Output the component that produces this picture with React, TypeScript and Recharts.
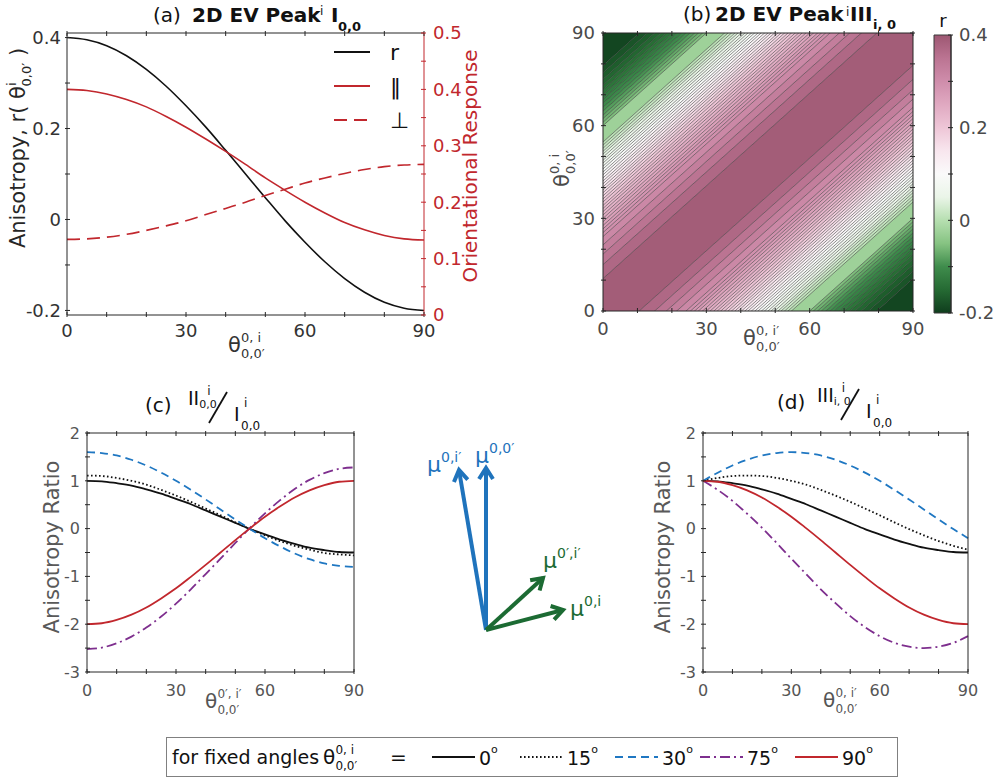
import React from 'react';
import {
  LineChart,
  ComposedChart,
  ScatterChart,
  Scatter,
  Line,
  Area,
  XAxis,
  YAxis,
  Legend,
  ReferenceArea,
} from 'recharts';

const FONT = '"DejaVu Sans", "Liberation Sans", sans-serif';
const INK = '#262626';
const GREY = '#4a4a4a';
const RED = '#c1272d';
const BLUE = '#1f77c2';
const PURPLE = '#7e2f8e';
const ARROW_BLUE = '#1f73bc';
const ARROW_GREEN = '#1c6b33';

// angle grid, every 5 degrees
const THETA = [0, 5, 10, 15, 20, 25, 30, 35, 40, 45, 50, 55, 60, 65, 70, 75, 80, 85, 90];

// (a) anisotropy r (left axis) and orientational response (right axis)
const ANISO_R = [0.4, 0.395, 0.382, 0.36, 0.33, 0.293, 0.25, 0.203, 0.152, 0.1, 0.048, -0.003, -0.05, -0.093, -0.13, -0.16, -0.182, -0.195, -0.2];
const RESP_PAR = [0.4, 0.398, 0.392, 0.382, 0.369, 0.352, 0.333, 0.312, 0.29, 0.267, 0.243, 0.221, 0.2, 0.181, 0.164, 0.151, 0.141, 0.135, 0.133];
const RESP_PERP = [0.134, 0.135, 0.138, 0.143, 0.15, 0.158, 0.167, 0.178, 0.189, 0.2, 0.212, 0.223, 0.234, 0.243, 0.251, 0.258, 0.263, 0.266, 0.267];

// fixed angles used in (c) and (d)
const FIXED_ANGLES = [0, 15, 30, 75, 90];

// (c) II / I ratio
const II_0 = [1.0, 0.99, 0.95, 0.9, 0.82, 0.73, 0.62, 0.51, 0.38, 0.25, 0.12, -0.01, -0.12, -0.23, -0.32, -0.4, -0.45, -0.49, -0.5];
const II_15 = [1.11, 1.1, 1.06, 1.0, 0.92, 0.81, 0.69, 0.56, 0.42, 0.28, 0.13, -0.01, -0.14, -0.26, -0.36, -0.44, -0.51, -0.54, -0.56];
const II_30 = [1.6, 1.58, 1.53, 1.44, 1.32, 1.17, 1.0, 0.81, 0.61, 0.4, 0.19, -0.01, -0.2, -0.37, -0.52, -0.64, -0.73, -0.78, -0.8];
const II_75 = [-2.52, -2.49, -2.4, -2.26, -2.07, -1.84, -1.57, -1.27, -0.95, -0.63, -0.3, 0.02, 0.32, 0.59, 0.83, 1.02, 1.16, 1.25, 1.28];
const II_90 = [-2.0, -1.98, -1.91, -1.8, -1.65, -1.46, -1.25, -1.01, -0.76, -0.5, -0.24, 0.01, 0.25, 0.46, 0.65, 0.8, 0.91, 0.98, 1.0];

// (d) III / I ratio
const III_0 = [1.0, 0.99, 0.95, 0.9, 0.82, 0.73, 0.62, 0.51, 0.38, 0.25, 0.12, -0.01, -0.12, -0.23, -0.32, -0.4, -0.45, -0.49, -0.5];
const III_15 = [1.0, 1.06, 1.1, 1.11, 1.1, 1.06, 1.0, 0.92, 0.81, 0.69, 0.56, 0.42, 0.28, 0.13, -0.01, -0.14, -0.26, -0.36, -0.44];
const III_30 = [1.0, 1.17, 1.32, 1.44, 1.53, 1.58, 1.6, 1.58, 1.53, 1.44, 1.32, 1.17, 1.0, 0.81, 0.61, 0.4, 0.19, -0.01, -0.2];
const III_75 = [1.0, 0.81, 0.58, 0.31, 0.02, -0.3, -0.63, -0.95, -1.27, -1.56, -1.83, -2.06, -2.25, -2.39, -2.47, -2.5, -2.47, -2.39, -2.25];
const III_90 = [1.0, 0.98, 0.91, 0.8, 0.65, 0.46, 0.25, 0.01, -0.24, -0.5, -0.76, -1.01, -1.25, -1.46, -1.65, -1.8, -1.91, -1.98, -2.0];

// (b) contour levels of r, and how far (in degrees) each one sits off the diagonal
const R_LEVELS = [
  0.38, 0.36, 0.34, 0.32, 0.3, 0.29, 0.28, 0.27, 0.26, 0.25, 0.24, 0.23, 0.22, 0.21, 0.2, 0.19, 0.18,
  0.17, 0.16, 0.15, 0.14, 0.13, 0.12, 0.11, 0.1, 0.09, 0.08, 0.07, 0.06, 0.05, 0.04, 0.03, 0.02, 0.01,
  0.0, -0.05, -0.06, -0.07, -0.08, -0.09, -0.1, -0.11, -0.12, -0.13, -0.14, -0.15, -0.16, -0.17, -0.18,
];
const LEVEL_OFFSETS = [
  10.5, 15.0, 18.4, 21.4, 24.1, 25.4, 26.6, 27.7, 28.9, 30.0, 31.1, 32.2, 33.2, 34.2, 35.3, 36.3, 37.3,
  38.3, 39.2, 40.2, 41.2, 42.1, 43.1, 44.1, 45.0, 46.0, 46.9, 47.9, 48.8, 49.8, 50.8, 51.7, 52.7, 53.7,
  54.7, 60.0, 61.1, 62.3, 63.4, 64.7, 65.9, 67.2, 68.6, 70.0, 71.6, 73.2, 75.0, 77.1, 79.5,
];

// colour bar range and stops (r value -> colour)
const CBAR_RANGE = [-0.2, 0.4];
const CMAP_R = [-0.2, -0.15, -0.1, -0.05, 0, 0.05, 0.1, 0.15, 0.2, 0.25, 0.3, 0.35, 0.4];
const CMAP_HEX = ['#0f3d1d', '#256a33', '#3f8c4c', '#86c382', '#b6dfb0', '#eaf5e8', '#fafafa', '#f8e6ee', '#eec6d7', '#e0a9c1', '#cf8dab', '#bb7492', '#9d5772'];

// tick positions
const DEG_TICKS = [0, 10, 20, 30, 40, 50, 60, 70, 80, 90];
const R_TICKS = [-0.2, -0.1, 0, 0.1, 0.2, 0.3, 0.4];
const RESP_TICKS = [0, 0.05, 0.1, 0.15, 0.2, 0.25, 0.3, 0.35, 0.4, 0.45, 0.5];
const RATIO_TICKS = [-3, -2.5, -2, -1.5, -1, -0.5, 0, 0.5, 1, 1.5, 2];
const CBAR_TICKS = [-0.2, -0.1, 0, 0.1, 0.2, 0.3, 0.4];

// transition dipoles for the sketch
const DIPOLE_NAMES = ['0,0′', '0,i′', '0′,i′', '0,i'];
const DIPOLE_DX = [0, -27, 57, 77];
const DIPOLE_DY = [162, 160, 52, 20];

// ---------- derived tables ----------

const dataA = THETA.map((t, i) => ({ t, r: ANISO_R[i], par: RESP_PAR[i], perp: RESP_PERP[i] }));

const II_SERIES = [II_0, II_15, II_30, II_75, II_90];
const III_SERIES = [III_0, III_15, III_30, III_75, III_90];

const toRows = (series: number[][]) =>
  THETA.map((t, i) => {
    const row: Record<string, number> = { t };
    FIXED_ANGLES.forEach((a, k) => {
      row[`a${a}`] = series[k][i];
    });
    return row;
  });

const dataC = toRows(II_SERIES);
const dataD = toRows(III_SERIES);

const FIXED_STYLE: Record<number, { stroke: string; dash?: string }> = {
  0: { stroke: '#111' },
  15: { stroke: '#111', dash: '1.6 2.4' },
  30: { stroke: BLUE, dash: '8 5' },
  75: { stroke: PURPLE, dash: '10 4 2 4' },
  90: { stroke: RED },
};

function hexToRgb(h: string) {
  const n = parseInt(h.slice(1), 16);
  return [(n >> 16) & 255, (n >> 8) & 255, n & 255];
}

function cmap(v: number) {
  const n = CMAP_R.length;
  if (v <= CMAP_R[0]) return CMAP_HEX[0];
  if (v >= CMAP_R[n - 1]) return CMAP_HEX[n - 1];
  for (let i = 0; i < n - 1; i++) {
    if (v <= CMAP_R[i + 1]) {
      const f = (v - CMAP_R[i]) / (CMAP_R[i + 1] - CMAP_R[i]);
      const a = hexToRgb(CMAP_HEX[i]);
      const b = hexToRgb(CMAP_HEX[i + 1]);
      const c = a.map((x, j) => Math.round(x + (b[j] - x) * f));
      return `rgb(${c[0]},${c[1]},${c[2]})`;
    }
  }
  return CMAP_HEX[n - 1];
}

// bands run parallel to the diagonal, so two end points per band are enough;
// the plot clips them to the square
const HEAT_X = [-100, 190];
const FAR = 200;

const HEAT_ROWS = HEAT_X.map((x) => {
  const row: Record<string, number | number[]> = { x };
  row.c = [x - LEVEL_OFFSETS[0], x + LEVEL_OFFSETS[0]];
  LEVEL_OFFSETS.forEach((lo, k) => {
    const hi = k + 1 < LEVEL_OFFSETS.length ? LEVEL_OFFSETS[k + 1] : FAR;
    row[`u${k}`] = [x + lo, x + hi];
    row[`d${k}`] = [x - hi, x - lo];
    row[`lu${k}`] = x + lo;
    row[`ld${k}`] = x - lo;
  });
  return row;
});

const HEAT_BANDS = [
  { key: 'c', color: cmap((0.4 + R_LEVELS[0]) / 2) },
  ...R_LEVELS.flatMap((lv, k) => {
    const next = k + 1 < R_LEVELS.length ? R_LEVELS[k + 1] : -0.2;
    const color = cmap((lv + next) / 2);
    return [
      { key: `u${k}`, color },
      { key: `d${k}`, color },
    ];
  }),
];

const HEAT_LINES = LEVEL_OFFSETS.flatMap((_, k) => [`lu${k}`, `ld${k}`]);

const CBAR_ROWS = [0, 1].map((x) => ({ x, span: CBAR_RANGE }));

// gradient stops must run top (0.4) to bottom (-0.2)
const CBAR_STOPS = CMAP_R.map((v, i) => ({ offset: (0.4 - v) / 0.6, color: CMAP_HEX[i] })).sort((p, q) => p.offset - q.offset);

// ---------- ticks ----------

type Side = 'left' | 'right' | 'top' | 'bottom';

const deg30 = (v: number) => (v % 30 === 0 ? String(v) : null);
const onStep = (step: number) => (v: number) => {
  const k = v / step;
  return Math.abs(k - Math.round(k)) < 1e-6 ? String(Number(v.toFixed(2))) : null;
};

function makeTick(
  side: Side,
  opts: { label?: (v: number) => string | null; fontSize?: number; color?: string; tickColor?: string; len?: number; gap?: number } = {},
) {
  const { label, fontSize = 16, color = GREY, tickColor = INK, len = 5, gap = 5 } = opts;
  return (props: any) => {
    const { x, y, payload } = props;
    const v = payload.value as number;
    const text = label ? label(v) : null;
    let mark;
    if (side === 'left') mark = <line x1={x} x2={x + len} y1={y} y2={y} />;
    else if (side === 'right') mark = <line x1={x} x2={x - len} y1={y} y2={y} />;
    else if (side === 'top') mark = <line x1={x} x2={x} y1={y} y2={y + len} />;
    else mark = <line x1={x} x2={x} y1={y} y2={y - len} />;
    let t = null;
    if (text != null) {
      if (side === 'left') t = <text x={x - gap} y={y} dy="0.36em" textAnchor="end">{text}</text>;
      else if (side === 'right') t = <text x={x + gap} y={y} dy="0.36em" textAnchor="start">{text}</text>;
      else if (side === 'bottom') t = <text x={x} y={y + gap} dy="0.72em" textAnchor="middle">{text}</text>;
    }
    return (
      <g>
        <g stroke={tickColor} strokeWidth={1}>{mark}</g>
        {t && (
          <g fill={color} fontSize={fontSize} fontFamily={FONT}>
            {t}
          </g>
        )}
      </g>
    );
  };
}

const axisBase = { tickSize: 0, tickLine: false, interval: 0 as const };

// ---------- panels ----------

function LegendA({ payload }: any) {
  const rows = payload ?? [];
  return (
    <svg width={90} height={100} style={{ overflow: 'visible' }}>
      {rows.map((e: any, i: number) => {
        const y = 12 + i * 34;
        return (
          <g key={e.value}>
            <line x1={0} x2={36} y1={y} y2={y} stroke={e.color} strokeWidth={1.8} strokeDasharray={e.payload?.strokeDasharray} />
            <text x={56} y={y} dy="0.36em" fontSize={22} fill="#111" fontFamily={FONT}>
              {e.value}
            </text>
          </g>
        );
      })}
    </svg>
  );
}

function PanelA() {
  return (
    <LineChart width={470} height={345} data={dataA} margin={{ top: 3, right: 0, bottom: 0, left: 0 }}>
      <XAxis xAxisId="b" dataKey="t" type="number" domain={[0, 90]} ticks={DEG_TICKS} height={30} axisLine={{ stroke: INK }} tick={makeTick('bottom', { label: deg30, fontSize: 18, gap: 7, color: '#333' })} {...axisBase} />
      <XAxis xAxisId="t" orientation="top" dataKey="t" type="number" domain={[0, 90]} ticks={DEG_TICKS} height={30} axisLine={{ stroke: INK }} tick={makeTick('top')} {...axisBase} />
      <YAxis yAxisId="l" type="number" domain={[-0.21, 0.41]} ticks={R_TICKS} width={67} axisLine={{ stroke: INK }} tick={makeTick('left', { label: onStep(0.2), fontSize: 18, gap: 4, color: '#333' })} {...axisBase} />
      <YAxis yAxisId="r" orientation="right" type="number" domain={[0, 0.5]} ticks={RESP_TICKS} width={46} axisLine={{ stroke: RED }} tick={makeTick('right', { label: onStep(0.1), fontSize: 18, gap: 7, color: RED, tickColor: RED })} {...axisBase} />
      <Line xAxisId="b" yAxisId="l" dataKey="r" name="r" type="monotone" stroke="#111" strokeWidth={1.6} dot={false} activeDot={false} isAnimationActive={false} />
      <Line xAxisId="b" yAxisId="r" dataKey="par" name="‖" type="monotone" stroke={RED} strokeWidth={1.6} dot={false} activeDot={false} isAnimationActive={false} />
      <Line xAxisId="b" yAxisId="r" dataKey="perp" name="⊥" type="monotone" stroke={RED} strokeWidth={1.6} strokeDasharray="13 7" dot={false} activeDot={false} isAnimationActive={false} />
      <Legend layout="vertical" align="center" verticalAlign="middle" content={LegendA} wrapperStyle={{ left: 334, top: 40, width: 90 }} />
    </LineChart>
  );
}

// shared geometry for the (b) heat map and its frame drawn on top of it
const B_SIZE = { width: 393, height: 341 };
const B_MARGIN = { top: 3, right: 10, bottom: 0, left: 0 };

function PanelB() {
  return (
    <ComposedChart {...B_SIZE} data={HEAT_ROWS} margin={B_MARGIN}>
      <XAxis xAxisId="b" dataKey="x" type="number" domain={[0, 90]} allowDataOverflow height={30} tick={false} axisLine={false} {...axisBase} />
      <XAxis xAxisId="t" orientation="top" dataKey="x" type="number" domain={[0, 90]} allowDataOverflow height={30} tick={false} axisLine={false} {...axisBase} />
      <YAxis yAxisId="l" type="number" domain={[0, 90]} allowDataOverflow width={63} tick={false} axisLine={false} {...axisBase} />
      <YAxis yAxisId="r" orientation="right" type="number" domain={[0, 90]} allowDataOverflow width={10} tick={false} axisLine={false} {...axisBase} />
      {HEAT_BANDS.map((b) => (
        <Area key={b.key} xAxisId="b" yAxisId="l" dataKey={b.key} type="linear" stroke="none" fill={b.color} fillOpacity={1} dot={false} activeDot={false} isAnimationActive={false} />
      ))}
      {HEAT_LINES.map((k) => (
        <Line key={k} xAxisId="b" yAxisId="l" dataKey={k} type="linear" stroke="#222" strokeWidth={0.5} dot={false} activeDot={false} isAnimationActive={false} />
      ))}
    </ComposedChart>
  );
}

function PanelBFrame() {
  return (
    <ComposedChart {...B_SIZE} data={HEAT_ROWS} margin={B_MARGIN}>
      <XAxis xAxisId="b" dataKey="x" type="number" domain={[0, 90]} allowDataOverflow ticks={DEG_TICKS} height={30} axisLine={{ stroke: INK }} tick={makeTick('bottom', { label: deg30, fontSize: 18, gap: 9 })} {...axisBase} />
      <XAxis xAxisId="t" orientation="top" dataKey="x" type="number" domain={[0, 90]} allowDataOverflow ticks={DEG_TICKS} height={30} axisLine={{ stroke: INK }} tick={makeTick('top')} {...axisBase} />
      <YAxis yAxisId="l" dataKey="x" type="number" domain={[0, 90]} allowDataOverflow ticks={DEG_TICKS} width={63} axisLine={{ stroke: INK }} tick={makeTick('left', { label: deg30, fontSize: 18, gap: 6 })} {...axisBase} />
      <YAxis yAxisId="r" dataKey="x" orientation="right" type="number" domain={[0, 90]} allowDataOverflow ticks={DEG_TICKS} width={10} axisLine={{ stroke: INK }} tick={makeTick('right')} {...axisBase} />
    </ComposedChart>
  );
}

function ColorBar() {
  return (
    <ComposedChart width={76} height={335} data={CBAR_ROWS} margin={{ top: 35, right: 0, bottom: 22, left: 4 }}>
      <defs>
        <linearGradient id="rbar" x1="0" y1="0" x2="0" y2="1">
          {CBAR_STOPS.map((s) => (
            <stop key={s.offset} offset={s.offset} stopColor={s.color} />
          ))}
        </linearGradient>
      </defs>
      <XAxis dataKey="x" type="number" domain={[0, 1]} hide />
      <YAxis orientation="right" type="number" domain={[-0.2, 0.4]} ticks={CBAR_TICKS} width={55} axisLine={{ stroke: INK }} tick={makeTick('right', { label: onStep(0.2), fontSize: 18, gap: 6 })} {...axisBase} />
      <Area dataKey="span" type="linear" stroke="none" fill="url(#rbar)" fillOpacity={1} dot={false} activeDot={false} isAnimationActive={false} />
      <ReferenceArea x1={0} x2={1} y1={-0.2} y2={0.4} fill="none" fillOpacity={0} stroke="#3a3a3a" strokeWidth={1} />
    </ComposedChart>
  );
}

function RatioPanel({ data, width }: { data: Record<string, number>[]; width: number }) {
  return (
    <LineChart width={width} height={299} data={data} margin={{ top: 0, right: 0, bottom: 0, left: 0 }}>
      <XAxis xAxisId="b" dataKey="t" type="number" domain={[0, 90]} ticks={DEG_TICKS} height={30} axisLine={{ stroke: INK }} tick={makeTick('bottom', { label: deg30, fontSize: 16, gap: 10, color: '#555' })} {...axisBase} />
      <XAxis xAxisId="t" orientation="top" dataKey="t" type="number" domain={[0, 90]} ticks={DEG_TICKS} height={30} axisLine={{ stroke: INK }} tick={makeTick('top')} {...axisBase} />
      <YAxis yAxisId="l" type="number" domain={[-3, 2]} ticks={RATIO_TICKS} width={57} axisLine={{ stroke: INK }} tick={makeTick('left', { label: onStep(1), fontSize: 16, gap: 5, color: '#555' })} {...axisBase} />
      <YAxis yAxisId="r" orientation="right" type="number" domain={[-3, 2]} ticks={RATIO_TICKS} width={10} axisLine={{ stroke: INK }} tick={makeTick('right')} {...axisBase} />
      {FIXED_ANGLES.map((a) => (
        <Line key={a} xAxisId="b" yAxisId="l" dataKey={`a${a}`} type="monotone" stroke={FIXED_STYLE[a].stroke} strokeDasharray={FIXED_STYLE[a].dash} strokeWidth={1.8} dot={false} activeDot={false} isAnimationActive={false} />
      ))}
    </LineChart>
  );
}

const DIPOLE_COLORS = [ARROW_BLUE, ARROW_BLUE, ARROW_GREEN, ARROW_GREEN];
const DIPOLE_LABEL_SHIFT = [
  [-11, -5],
  [-32, 2],
  [0, -10],
  [7, 6],
];

// arrow head and label at the tip of each dipole; the origin point draws nothing
const DipoleTip = (props: any) => {
  const { cx, cy, payload } = props;
  if (!payload || !payload.tip) return <g />;
  const i = payload.i as number;
  const color = DIPOLE_COLORS[i];
  const len = Math.hypot(payload.x, payload.y) || 1;
  const ux = payload.x / len;
  const uy = -payload.y / len;
  const nx = -uy;
  const ny = ux;
  const h = 11;
  const w = 7;
  const pts = `${cx - ux * h + nx * w},${cy - uy * h + ny * w} ${cx},${cy} ${cx - ux * h - nx * w},${cy - uy * h - ny * w}`;
  const [ox, oy] = DIPOLE_LABEL_SHIFT[i];
  return (
    <g>
      <polyline points={pts} fill="none" stroke={color} strokeWidth={4} />
      <text x={cx + ox} y={cy + oy} fill={color} fontSize={22} fontFamily={FONT}>
        μ
        <tspan dy={-10} fontSize={14}>
          {DIPOLE_NAMES[i]}
        </tspan>
      </text>
    </g>
  );
};

function DipoleSketch() {
  return (
    <ScatterChart width={220} height={220} margin={{ top: 0, right: 0, bottom: 0, left: 0 }}>
      <XAxis type="number" dataKey="x" domain={[-86, 134]} hide />
      <YAxis type="number" dataKey="y" domain={[-20, 200]} hide />
      {DIPOLE_NAMES.map((name, i) => (
        <Scatter
          key={name}
          data={[
            { x: 0, y: 0, i, tip: false },
            { x: DIPOLE_DX[i], y: DIPOLE_DY[i], i, tip: true },
          ]}
          line={{ stroke: DIPOLE_COLORS[i], strokeWidth: 4 }}
          shape={DipoleTip}
          isAnimationActive={false}
        />
      ))}
    </ScatterChart>
  );
}

// ---------- text overlay ----------

function Theta({ x, y, sup, sub, size = 21, fill = '#333' }: { x: number; y: number; sup: string; sub: string; size?: number; fill?: string }) {
  const s = Math.round(size * 0.62);
  return (
    <g fill={fill} fontFamily={FONT}>
      <text x={x} y={y} fontSize={size}>θ</text>
      <text x={x + size * 0.62} y={y - size * 0.5} fontSize={s}>{sup}</text>
      <text x={x + size * 0.62} y={y + size * 0.3} fontSize={s}>{sub}</text>
    </g>
  );
}

function RatioTitle({ x, y, tag, top, topSub, bottom }: { x: number; y: number; tag: string; top: string; topSub: string; bottom: string }) {
  const topX = 43 - (top.length - 2) * 3;
  const topW = top.length * 5.6;
  return (
    <g fontFamily={FONT} fill="#111" transform={`translate(${x} ${y})`}>
      <text x={0} y={32} fontSize={20}>{tag}</text>
      <text x={topX} y={25} fontSize={19}>{top}</text>
      <text x={topX + topW} y={28} fontSize={11}>{topSub}</text>
      <text x={topX + topW + 8} y={15} fontSize={12}>i</text>
      <line x1={64} y1={43} x2={82} y2={12} stroke="#111" strokeWidth={1.8} />
      <text x={89} y={41} fontSize={19}>{bottom}</text>
      <text x={96} y={50} fontSize={12}>0,0</text>
      <text x={99} y={27} fontSize={12}>i</text>
    </g>
  );
}

function Annotations() {
  return (
    <svg width={1006} height={779} style={{ position: 'absolute', left: 0, top: 0, pointerEvents: 'none' }}>
      {/* (a) */}
      <g fontFamily={FONT} fill="#111">
        <text x={153} y={22} fontSize={20}>(a)</text>
        <text x={192} y={22} fontSize={20} fontWeight={700}>2D EV Peak</text>
        <text x={320} y={15} fontSize={12}>i</text>
        <text x={331} y={22} fontSize={20} fontWeight={700}>I</text>
        <text x={338} y={31} fontSize={13} fontWeight={700}>0,0</text>
      </g>
      <Theta x={228} y={352} sup="0, i" sub="0,0′" />
      <g transform="rotate(-90 25 148)" fontFamily={FONT} fill="#262626">
        <text x={25} y={148} fontSize={21} textAnchor="middle">
          Anisotropy, r( θ
          <tspan dy={-9} fontSize={13}>i</tspan>
          <tspan dx={-4} dy={15} fontSize={13}>0,0′</tspan>
          <tspan dy={-6} fontSize={21}> )</tspan>
        </text>
      </g>
      <g transform="rotate(-90 477 166)" fontFamily={FONT} fill={RED}>
        <text x={477} y={166} fontSize={20} textAnchor="middle">Orientational Response</text>
      </g>

      {/* (b) */}
      <g fontFamily={FONT} fill="#111">
        <text x={683} y={21} fontSize={20}>(b)</text>
        <text x={715} y={21} fontSize={20} fontWeight={700}>2D EV Peak</text>
        <text x={846} y={16} fontSize={12}>i</text>
        <text x={850} y={21} fontSize={20} fontWeight={700}>III</text>
        <text x={873} y={29} fontSize={13} fontWeight={700}>i, 0</text>
        <text x={943} y={27} fontSize={18} textAnchor="middle">r</text>
      </g>
      <Theta x={743} y={345} sup="0, i′" sub="0,0′" fill={GREY} />
      <g transform="rotate(-90 569 165)">
        <Theta x={547} y={165} sup="0, i" sub="0,0′" fill={GREY} />
      </g>

      {/* (c), (d) */}
      <RatioTitle x={145} y={380} tag="(c)" top="II" topSub="0,0" bottom="I" />
      <RatioTitle x={777} y={377} tag="(d)" top="III" topSub="i, 0" bottom="I" />
      <Theta x={205} y={708} sup="0′, i′" sub="0,0′" size={20} fill="#555" />
      <Theta x={823} y={707} sup="0, i′" sub="0,0′" size={20} fill="#555" />
      <g transform="rotate(-90 59 547)" fontFamily={FONT} fill="#595959">
        <text x={59} y={547} fontSize={21} textAnchor="middle">Anisotropy Ratio</text>
      </g>
      <g transform="rotate(-90 670 547)" fontFamily={FONT} fill="#595959">
        <text x={670} y={547} fontSize={21} textAnchor="middle">Anisotropy Ratio</text>
      </g>

      {/* shared legend for (c) and (d) */}
      <rect x={166.5} y={737.5} width={731} height={39} fill="none" stroke="#808080" />
      <g fontFamily={FONT} fill="#111">
        <text x={172} y={764} fontSize={19}>for fixed angles</text>
        <text x={390} y={764} fontSize={20}>=</text>
      </g>
      <Theta x={323} y={764} sup="0, i" sub="0,0′" size={20} fill="#111" />
      {FIXED_ANGLES.map((a, i) => {
        const x0 = [432, 520, 615, 700, 795][i];
        const st = FIXED_STYLE[a];
        return (
          <g key={a}>
            <line x1={x0} x2={x0 + 43} y1={757} y2={757} stroke={st.stroke} strokeWidth={2} strokeDasharray={st.dash} />
            <text x={x0 + 47} y={765} fontSize={19} fontFamily={FONT} fill="#111">
              {a}
              <tspan dy={-12} fontSize={11}>o</tspan>
            </text>
          </g>
        );
      })}
    </svg>
  );
}

export default function App() {
  return (
    <div style={{ position: 'absolute', left: 0, top: 0, width: 1006, height: 779, background: '#fff', overflow: 'hidden', fontFamily: FONT }}>
      <div style={{ position: 'absolute', left: 0, top: 0 }}>
        <PanelA />
      </div>
      <div style={{ position: 'absolute', left: 540, top: 0 }}>
        <PanelB />
      </div>
      <div style={{ position: 'absolute', left: 540, top: 0 }}>
        <PanelBFrame />
      </div>
      <div style={{ position: 'absolute', left: 930, top: 0 }}>
        <ColorBar />
      </div>
      <div style={{ position: 'absolute', left: 30, top: 403 }}>
        <RatioPanel data={dataC} width={334} />
      </div>
      <div style={{ position: 'absolute', left: 646, top: 403 }}>
        <RatioPanel data={dataD} width={332} />
      </div>
      <div style={{ position: 'absolute', left: 400, top: 430 }}>
        <DipoleSketch />
      </div>
      <Annotations />
    </div>
  );
}
